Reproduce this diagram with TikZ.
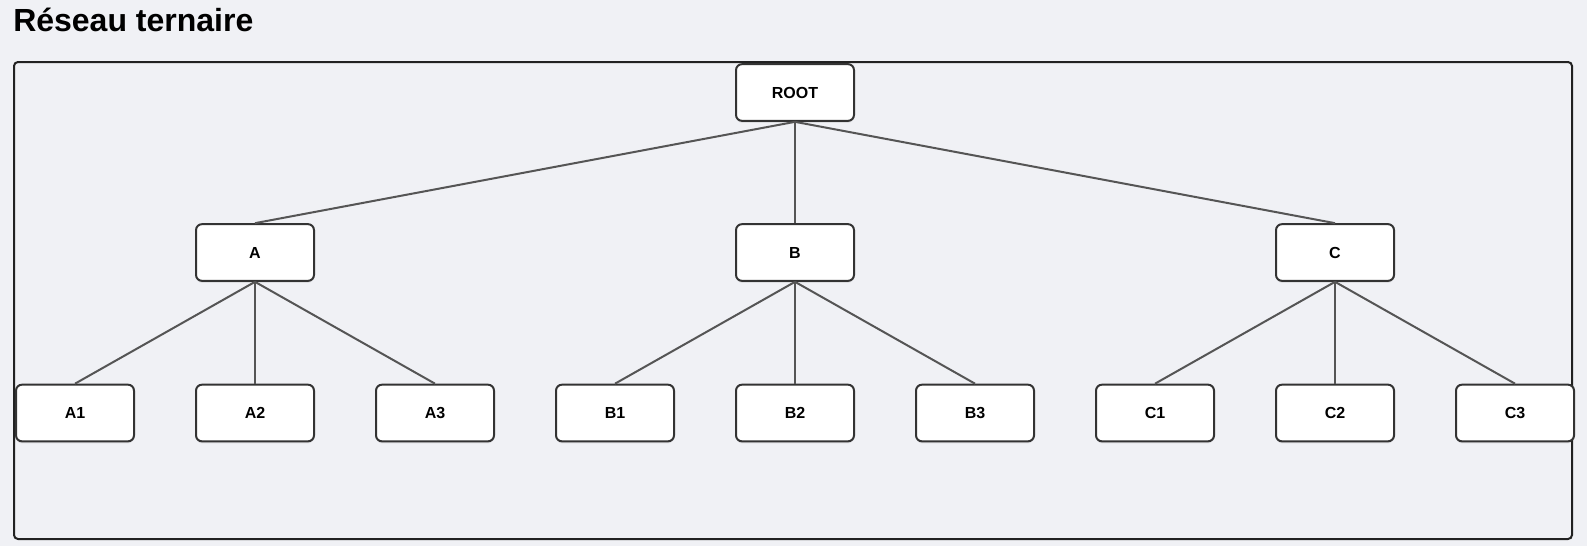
\documentclass[tikz,border=0pt]{standalone}
\usepackage{fontspec}
\setmainfont{Liberation Sans}
\usetikzlibrary{shadows}
\definecolor{pagebg}{HTML}{F0F1F5}
\definecolor{boxline}{HTML}{333333}
\definecolor{edgeline}{HTML}{555555}
\definecolor{framecol}{HTML}{222222}
\tikzset{
  x=0.75pt, y=-0.75pt,
  treebox/.style={draw=boxline, line width=1.5pt, fill=white, rounded corners=4.5pt,
    minimum width=88.5pt, minimum height=42.5pt, inner sep=0pt,
    font=\bfseries\fontsize{12}{14}\selectfont,
    drop shadow={shadow xshift=0pt, shadow yshift=-1.5pt, opacity=0.08, fill=black}},
  link/.style={draw=edgeline, line width=1.5pt},
}
\begin{document}
\begin{tikzpicture}
  \fill[pagebg] (0,0) rectangle (1587,546);
  \useasboundingbox (0,0) rectangle (1587,546);

  % title
  \node[anchor=base west, inner sep=0pt, font=\bfseries\fontsize{24}{28}\selectfont] (title) at (13,31.5) {Réseau ternaire};

  % outer frame
  \draw[framecol, line width=1.5pt, rounded corners=3pt] (14,62) rectangle (1572,539);

  % root
  \node[treebox] (root) at (795,92.5) {ROOT};

  % second level
  \node[treebox] (A) at (255,252.5) {A};
  \node[treebox] (B) at (795,252.5) {B};
  \node[treebox] (C) at (1335,252.5) {C};

  % leaves
  \foreach \name/\xx in {A1/75,A2/255,A3/435,B1/615,B2/795,B3/975,C1/1155,C2/1335,C3/1515}
    \node[treebox] (\name) at (\xx,413) {\name};

  % connectors
  \foreach \child in {A,B,C}
    \draw[link] (root.south) -- (\child.north);
  \foreach \parent in {A,B,C}
    \foreach \k in {1,2,3}
      \draw[link] (\parent.south) -- (\parent\k.north);
\end{tikzpicture}
\end{document}
